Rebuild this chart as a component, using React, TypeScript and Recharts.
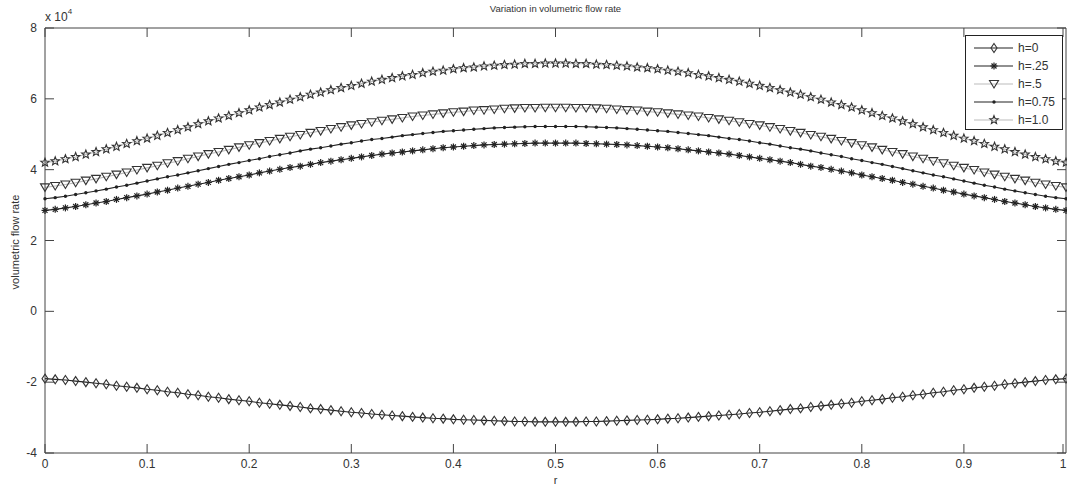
import React from "react"
import { LineChart, Line, XAxis, YAxis, ReferenceLine } from "recharts"

// r grid, 0 .. 1 in steps of 0.01
const rValues = Array.from({ length: 101 }, (_, i) => i / 100)

// volumetric flow rate, in units of 1e4
const h0 = [
  -1.90, -1.92, -1.94, -1.97, -2.00, -2.03, -2.06, -2.10, -2.13, -2.16,
  -2.20, -2.23, -2.27, -2.30, -2.34, -2.37, -2.41, -2.44, -2.48, -2.51,
  -2.54, -2.58, -2.61, -2.64, -2.67, -2.70, -2.74, -2.76, -2.79, -2.82,
  -2.85, -2.87, -2.90, -2.92, -2.94, -2.96, -2.98, -3.00, -3.02, -3.03,
  -3.05, -3.06, -3.07, -3.08, -3.09, -3.10, -3.11, -3.11, -3.12, -3.12,
  -3.12,
  -3.12, -3.12, -3.11, -3.11, -3.10, -3.09, -3.08, -3.07, -3.06, -3.05,
  -3.03, -3.02, -3.00, -2.98, -2.96, -2.94, -2.92, -2.90, -2.87, -2.85,
  -2.82, -2.79, -2.76, -2.74, -2.70, -2.67, -2.64, -2.61, -2.58, -2.54,
  -2.51, -2.48, -2.44, -2.41, -2.37, -2.34, -2.30, -2.27, -2.23, -2.20,
  -2.16, -2.13, -2.10, -2.06, -2.03, -2.00, -1.97, -1.94, -1.92, -1.90,
]

const h025 = [
  2.85, 2.88, 2.92, 2.96, 3.01, 3.06, 3.10, 3.16, 3.21, 3.26,
  3.31, 3.37, 3.42, 3.48, 3.53, 3.59, 3.64, 3.70, 3.75, 3.80,
  3.85, 3.91, 3.96, 4.01, 4.06, 4.10, 4.15, 4.20, 4.24, 4.28,
  4.32, 4.36, 4.40, 4.44, 4.47, 4.50, 4.53, 4.56, 4.59, 4.62,
  4.64, 4.66, 4.68, 4.70, 4.71, 4.72, 4.73, 4.74, 4.75, 4.75,
  4.75,
  4.75, 4.75, 4.74, 4.73, 4.72, 4.71, 4.70, 4.68, 4.66, 4.64,
  4.62, 4.59, 4.56, 4.53, 4.50, 4.47, 4.44, 4.40, 4.36, 4.32,
  4.28, 4.24, 4.20, 4.15, 4.10, 4.06, 4.01, 3.96, 3.91, 3.85,
  3.80, 3.75, 3.70, 3.64, 3.59, 3.53, 3.48, 3.42, 3.37, 3.31,
  3.26, 3.21, 3.16, 3.10, 3.06, 3.01, 2.96, 2.92, 2.88, 2.85,
]

const h05 = [
  3.50, 3.54, 3.58, 3.63, 3.69, 3.74, 3.80, 3.86, 3.92, 3.99,
  4.05, 4.11, 4.18, 4.24, 4.31, 4.37, 4.44, 4.50, 4.56, 4.63,
  4.69, 4.75, 4.81, 4.87, 4.93, 4.98, 5.04, 5.09, 5.15, 5.20,
  5.25, 5.29, 5.34, 5.38, 5.42, 5.46, 5.50, 5.53, 5.56, 5.59,
  5.62, 5.64, 5.67, 5.68, 5.70, 5.72, 5.73, 5.74, 5.74, 5.75,
  5.75,
  5.75, 5.74, 5.74, 5.73, 5.72, 5.70, 5.68, 5.67, 5.64, 5.62,
  5.59, 5.56, 5.53, 5.50, 5.46, 5.42, 5.38, 5.34, 5.29, 5.25,
  5.20, 5.15, 5.09, 5.04, 4.98, 4.93, 4.87, 4.81, 4.75, 4.69,
  4.63, 4.56, 4.50, 4.44, 4.37, 4.31, 4.24, 4.18, 4.11, 4.05,
  3.99, 3.92, 3.86, 3.80, 3.74, 3.69, 3.63, 3.58, 3.54, 3.50,
]

const h075 = [
  3.18, 3.21, 3.25, 3.30, 3.35, 3.40, 3.45, 3.51, 3.56, 3.62,
  3.68, 3.74, 3.80, 3.85, 3.91, 3.97, 4.03, 4.09, 4.15, 4.20,
  4.26, 4.31, 4.37, 4.42, 4.47, 4.53, 4.58, 4.62, 4.67, 4.72,
  4.76, 4.81, 4.85, 4.88, 4.92, 4.96, 4.99, 5.02, 5.05, 5.08,
  5.10, 5.12, 5.14, 5.16, 5.18, 5.19, 5.20, 5.21, 5.22, 5.22,
  5.22,
  5.22, 5.22, 5.21, 5.20, 5.19, 5.18, 5.16, 5.14, 5.12, 5.10,
  5.08, 5.05, 5.02, 4.99, 4.96, 4.92, 4.88, 4.85, 4.81, 4.76,
  4.72, 4.67, 4.62, 4.58, 4.53, 4.47, 4.42, 4.37, 4.31, 4.26,
  4.20, 4.15, 4.09, 4.03, 3.97, 3.91, 3.85, 3.80, 3.74, 3.68,
  3.62, 3.56, 3.51, 3.45, 3.40, 3.35, 3.30, 3.25, 3.21, 3.18,
]

const h10 = [
  4.20, 4.24, 4.30, 4.36, 4.43, 4.50, 4.58, 4.65, 4.73, 4.81,
  4.88, 4.96, 5.04, 5.12, 5.20, 5.29, 5.37, 5.45, 5.52, 5.60,
  5.68, 5.76, 5.83, 5.90, 5.98, 6.05, 6.12, 6.18, 6.25, 6.31,
  6.37, 6.43, 6.49, 6.54, 6.59, 6.64, 6.68, 6.73, 6.77, 6.80,
  6.84, 6.87, 6.89, 6.92, 6.94, 6.96, 6.97, 6.99, 6.99, 7.00,
  7.00,
  7.00, 6.99, 6.99, 6.97, 6.96, 6.94, 6.92, 6.89, 6.87, 6.84,
  6.80, 6.77, 6.73, 6.68, 6.64, 6.59, 6.54, 6.49, 6.43, 6.37,
  6.31, 6.25, 6.18, 6.12, 6.05, 5.98, 5.90, 5.83, 5.76, 5.68,
  5.60, 5.52, 5.45, 5.37, 5.29, 5.20, 5.12, 5.04, 4.96, 4.88,
  4.81, 4.73, 4.65, 4.58, 4.50, 4.43, 4.36, 4.30, 4.24, 4.20,
]

const xTicks = [0, 0.1, 0.2, 0.3, 0.4, 0.5, 0.6, 0.7, 0.8, 0.9, 1]
const yTicks = [-4, -2, 0, 2, 4, 6, 8]

const data = rValues.map((r, i) => ({
  r,
  h0: h0[i],
  h025: h025[i],
  h05: h05[i],
  h075: h075[i],
  h10: h10[i],
}))

type MarkerKind = "diamond" | "asterisk" | "triangle" | "dot" | "star"

const series: { key: string; name: string; line: string; marker: MarkerKind }[] = [
  { key: "h0", name: "h=0", line: "#222", marker: "diamond" },
  { key: "h025", name: "h=.25", line: "#222", marker: "asterisk" },
  { key: "h05", name: "h=.5", line: "#bbb", marker: "triangle" },
  { key: "h075", name: "h=0.75", line: "#222", marker: "dot" },
  { key: "h10", name: "h=1.0", line: "#bbb", marker: "star" },
]

const FONT = "'Liberation Sans', Arial, Helvetica, sans-serif"
const INK = "#333"
const AXIS = "#444"

// plot box (matches chart margins below)
const PLOT_W = 1021
const PLOT_H = 425
const TICK_LEN = 9

const starPath = (cx: number, cy: number) => {
  const pts: string[] = []
  for (let i = 0; i < 10; i++) {
    const rad = i % 2 === 0 ? 4.4 : 1.9
    const a = -Math.PI / 2 + (i * Math.PI) / 5
    pts.push(`${(cx + rad * Math.cos(a)).toFixed(2)},${(cy + rad * Math.sin(a)).toFixed(2)}`)
  }
  return `M${pts.join("L")}Z`
}

const Marker = ({ kind, cx, cy }: { kind: MarkerKind; cx: number; cy: number }) => {
  if (cx == null || cy == null) return <g />
  switch (kind) {
    case "diamond":
      return (
        <path
          d={`M${cx},${cy - 4.5}L${cx + 3},${cy}L${cx},${cy + 4.5}L${cx - 3},${cy}Z`}
          fill="none"
          stroke="#333"
          strokeWidth={1.1}
        />
      )
    case "asterisk":
      return (
        <g stroke="#222" strokeWidth={1.2}>
          <line x1={cx - 3.5} y1={cy} x2={cx + 3.5} y2={cy} />
          <line x1={cx} y1={cy - 3.5} x2={cx} y2={cy + 3.5} />
          <line x1={cx - 2.5} y1={cy - 2.5} x2={cx + 2.5} y2={cy + 2.5} />
          <line x1={cx - 2.5} y1={cy + 2.5} x2={cx + 2.5} y2={cy - 2.5} />
        </g>
      )
    case "triangle":
      return (
        <path
          d={`M${cx - 4.5},${cy - 3.5}L${cx + 4.5},${cy - 3.5}L${cx},${cy + 4}Z`}
          fill="none"
          stroke="#333"
          strokeWidth={1.1}
        />
      )
    case "dot":
      return <circle cx={cx} cy={cy} r={1.7} fill="#222" />
    case "star":
      return <path d={starPath(cx, cy)} fill="none" stroke="#333" strokeWidth={1.1} />
  }
}

// bottom labels plus MATLAB-style inward ticks on bottom and top edges
const XTick = ({ x, y, payload }: any) => (
  <g>
    <line x1={x} y1={y} x2={x} y2={y - TICK_LEN} stroke={AXIS} />
    <line x1={x} y1={y - PLOT_H} x2={x} y2={y - PLOT_H + TICK_LEN} stroke={AXIS} />
    <text x={x} y={y} dy={15} textAnchor="middle" fontSize={12} fill={INK} fontFamily={FONT}>
      {payload.value}
    </text>
  </g>
)

// left labels plus inward ticks on left and right edges
const YTick = ({ x, y, payload }: any) => (
  <g>
    <line x1={x} y1={y} x2={x + TICK_LEN} y2={y} stroke={AXIS} />
    <line x1={x + PLOT_W} y1={y} x2={x + PLOT_W - TICK_LEN} y2={y} stroke={AXIS} />
    <text x={x - 8} y={y} dy={4} textAnchor="end" fontSize={12} fill={INK} fontFamily={FONT}>
      {payload.value}
    </text>
  </g>
)

const LegendBox = () => (
  <div
    style={{
      position: "absolute",
      left: 965,
      top: 35,
      width: 96,
      height: 93,
      border: "1px solid #222",
      background: "#fff",
      fontFamily: FONT,
      fontSize: 12,
      color: INK,
    }}
  >
    {series.map((s, i) => (
      <div
        key={s.key}
        style={{ position: "absolute", left: 0, top: 3 + i * 18, height: 18, display: "flex", alignItems: "center" }}
      >
        <svg width={52} height={18} style={{ display: "block" }}>
          <line x1={8} y1={9} x2={47} y2={9} stroke={s.line} strokeWidth={1.2} />
          <Marker kind={s.marker} cx={28} cy={9} />
        </svg>
        <span style={{ lineHeight: "18px" }}>{s.name}</span>
      </div>
    ))}
  </div>
)

export default function App() {
  return (
    <div style={{ position: "absolute", left: 0, top: 0, width: 1067, height: 488, background: "#fff" }}>
      <LineChart width={1067} height={488} data={data} margin={{ top: 28, right: 1, bottom: 0, left: 0 }}>
        <XAxis
          dataKey="r"
          type="number"
          domain={[0, 1]}
          ticks={xTicks}
          height={35}
          tickSize={0}
          tickMargin={0}
          tick={<XTick />}
          axisLine={{ stroke: AXIS }}
          tickLine={false}
        />
        <YAxis
          type="number"
          domain={[-4, 8]}
          ticks={yTicks}
          width={45}
          tickSize={0}
          tickMargin={0}
          tick={<YTick />}
          axisLine={{ stroke: AXIS }}
          tickLine={false}
        />
        <ReferenceLine y={8} stroke={AXIS} />
        <ReferenceLine x={1} stroke={AXIS} />
        {series.map((s) => (
          <Line
            key={s.key}
            dataKey={s.key}
            name={s.name}
            type="linear"
            stroke={s.line}
            strokeWidth={1.1}
            isAnimationActive={false}
            dot={(p: any) => <Marker key={`${s.key}-${p.index}`} kind={s.marker} cx={p.cx} cy={p.cy} />}
            activeDot={false}
          />
        ))}
      </LineChart>

      <div
        style={{
          position: "absolute",
          left: 45,
          width: 1021,
          top: 3,
          textAlign: "center",
          fontFamily: FONT,
          fontSize: 9.5,
          color: INK,
        }}
      >
        Variation in volumetric flow rate
      </div>
      <div style={{ position: "absolute", left: 45, top: 10, fontFamily: FONT, fontSize: 12, color: INK }}>
        x 10<sup style={{ fontSize: 8, verticalAlign: "top", position: "relative", top: -3 }}>4</sup>
      </div>
      <div
        style={{
          position: "absolute",
          left: 15,
          top: 242,
          transform: "translate(-50%, -50%) rotate(-90deg)",
          whiteSpace: "nowrap",
          fontFamily: FONT,
          fontSize: 11,
          color: INK,
        }}
      >
        volumetric flow rate
      </div>
      <div
        style={{
          position: "absolute",
          left: 45,
          width: 1021,
          top: 474,
          textAlign: "center",
          fontFamily: FONT,
          fontSize: 11,
          color: INK,
        }}
      >
        r
      </div>
      <LegendBox />
    </div>
  )
}
